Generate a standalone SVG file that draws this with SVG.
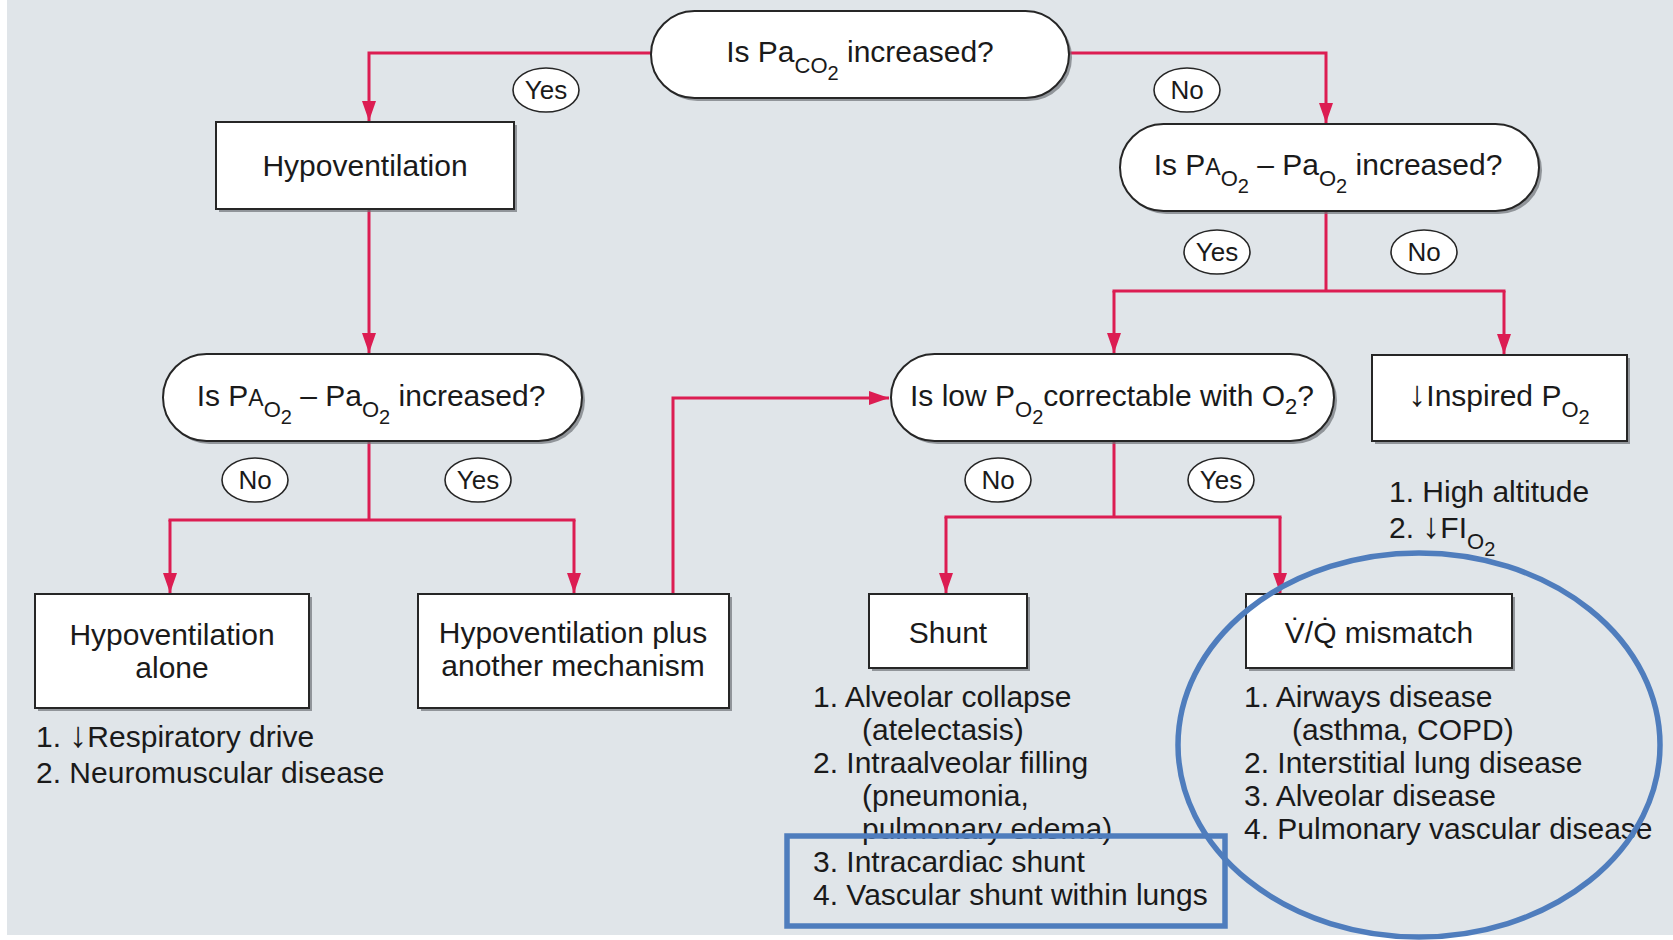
<svg xmlns="http://www.w3.org/2000/svg" width="1673" height="940" viewBox="0 0 1673 940">
<defs>
<style>
.t{font-family:"Liberation Sans",Arial,sans-serif;font-size:30px;fill:#1a1a1a}
.lb{font-family:"Liberation Sans",Arial,sans-serif;font-size:26px;fill:#1a1a1a;text-anchor:middle}
.m{text-anchor:middle}
.s{font-size:22px}
.ss{font-size:20px}
.ar{font-size:36px}
.node{fill:#ffffff;stroke:#262626;stroke-width:2}
.sh{fill:#6f7377;opacity:0.7}
.lab{fill:#ffffff;stroke:#262626;stroke-width:1.6}
.c{fill:none;stroke:#dc1d52;stroke-width:3}
.hl{fill:none;stroke:#4f7dbd;stroke-width:5.5}
</style>
<marker id="a" markerUnits="userSpaceOnUse" markerWidth="20" markerHeight="14" viewBox="0 0 20 14" refX="20" refY="7" orient="auto">
<path d="M0,0 L20,7 L0,14 Z" fill="#dc1d52"/>
</marker>
</defs>
<rect x="0" y="0" width="1673" height="940" fill="#ffffff"/>
<rect x="7" y="0" width="1666" height="935" fill="#e0e5e9"/>

<g id="connectors">
<polyline class="c" points="651,53 369,53 369,121" marker-end="url(#a)"/>
<polyline class="c" points="1069,53 1326,53 1326,123" marker-end="url(#a)"/>
<polyline class="c" points="369,209 369,353" marker-end="url(#a)"/>
<polyline class="c" points="369,441 369,520"/>
<polyline class="c" points="170,520 170,593" marker-end="url(#a)"/>
<polyline class="c" points="168.5,520 575.5,520"/>
<polyline class="c" points="574,520 574,593" marker-end="url(#a)"/>
<polyline class="c" points="673,594 673,398 889,398" marker-end="url(#a)"/>
<polyline class="c" points="1326,210 1326,291"/>
<polyline class="c" points="1112.5,291 1505.5,291"/>
<polyline class="c" points="1114,291 1114,353" marker-end="url(#a)"/>
<polyline class="c" points="1504,291 1504,354" marker-end="url(#a)"/>
<polyline class="c" points="1114,441 1114,517"/>
<polyline class="c" points="944.5,517 1281.5,517"/>
<polyline class="c" points="946,517 946,593" marker-end="url(#a)"/>
<polyline class="c" points="1280,517 1280,593" marker-end="url(#a)"/>
</g>

<g id="labels">
<ellipse class="lab" cx="546" cy="90" rx="33" ry="22"/><text class="lb" x="546" y="99">Yes</text>
<ellipse class="lab" cx="1187" cy="90" rx="33" ry="22"/><text class="lb" x="1187" y="99">No</text>
<ellipse class="lab" cx="255" cy="480" rx="33" ry="22"/><text class="lb" x="255" y="489">No</text>
<ellipse class="lab" cx="478" cy="480" rx="33" ry="22"/><text class="lb" x="478" y="489">Yes</text>
<ellipse class="lab" cx="1217" cy="252" rx="33" ry="22"/><text class="lb" x="1217" y="261">Yes</text>
<ellipse class="lab" cx="1424" cy="252" rx="33" ry="22"/><text class="lb" x="1424" y="261">No</text>
<ellipse class="lab" cx="998" cy="480" rx="33" ry="22"/><text class="lb" x="998" y="489">No</text>
<ellipse class="lab" cx="1221" cy="480" rx="33" ry="22"/><text class="lb" x="1221" y="489">Yes</text>
</g>

<g id="q1">
<rect class="sh" x="654" y="14" width="418" height="87" rx="43.5"/>
<rect class="node" x="651" y="11" width="418" height="87" rx="43.5"/>
<text class="t m" x="860" y="62">Is Pa<tspan class="s" dy="11">CO</tspan><tspan class="ss" dy="7">2</tspan><tspan dy="-18"> increased?</tspan></text>
</g>

<g id="hypo">
<rect class="sh" x="219" y="125" width="298" height="87"/>
<rect class="node" x="216" y="122" width="298" height="87"/>
<text class="t m" x="365" y="176">Hypoventilation</text>
</g>

<g id="q2left">
<rect class="sh" x="166" y="357" width="419" height="87" rx="43.5"/>
<rect class="node" x="163" y="354" width="419" height="87" rx="43.5"/>
<text class="t m" x="371" y="406">Is P<tspan font-size="23">A</tspan><tspan class="s" dy="11">O</tspan><tspan class="ss" dy="7">2</tspan><tspan dy="-18"> –  Pa</tspan><tspan class="s" dy="11">O</tspan><tspan class="ss" dy="7">2</tspan><tspan dy="-18"> increased?</tspan></text>
</g>

<g id="q2right">
<rect class="sh" x="1123" y="127" width="419" height="87" rx="43.5"/>
<rect class="node" x="1120" y="124" width="419" height="87" rx="43.5"/>
<text class="t m" x="1328" y="175">Is P<tspan font-size="23">A</tspan><tspan class="s" dy="11">O</tspan><tspan class="ss" dy="7">2</tspan><tspan dy="-18"> –  Pa</tspan><tspan class="s" dy="11">O</tspan><tspan class="ss" dy="7">2</tspan><tspan dy="-18"> increased?</tspan></text>
</g>

<g id="hypoalone">
<rect class="sh" x="38" y="597" width="274" height="114"/>
<rect class="node" x="35" y="594" width="274" height="114"/>
<text class="t m" x="172" y="645">Hypoventilation</text>
<text class="t m" x="172" y="678">alone</text>
</g>

<g id="hypoplus">
<rect class="sh" x="421" y="597" width="311" height="114"/>
<rect class="node" x="418" y="594" width="311" height="114"/>
<text class="t m" x="573" y="643">Hypoventilation plus</text>
<text class="t m" x="573" y="676">another mechanism</text>
</g>

<g id="q3">
<rect class="sh" x="894" y="357" width="443" height="87" rx="43.5"/>
<rect class="node" x="891" y="354" width="443" height="87" rx="43.5"/>
<text class="t m" x="1112" y="406">Is low P<tspan class="s" dy="11">O</tspan><tspan class="ss" dy="7">2</tspan><tspan dy="-18">correctable with O</tspan><tspan class="s" dy="8">2</tspan><tspan dy="-8">?</tspan></text>
</g>

<g id="inspired">
<rect class="sh" x="1375" y="358" width="255" height="86"/>
<rect class="node" x="1372" y="355" width="255" height="86"/>
<text class="t m" x="1499" y="406"><tspan class="ar">↓</tspan>Inspired P<tspan class="s" dy="11">O</tspan><tspan class="ss" dy="7">2</tspan></text>
<text class="t" x="1389" y="502">1. High altitude</text>
<text class="t" x="1389" y="538">2. <tspan class="ar">↓</tspan>FI<tspan class="s" dy="11">O</tspan><tspan class="ss" dy="7">2</tspan></text>
</g>

<g id="shunt">
<rect class="sh" x="872" y="597" width="158" height="74"/>
<rect class="node" x="869" y="594" width="158" height="74"/>
<text class="t m" x="948" y="643">Shunt</text>
<text class="t" x="813" y="707">1. Alveolar collapse</text>
<text class="t" x="862" y="740">(atelectasis)</text>
<text class="t" x="813" y="773">2. Intraalveolar filling</text>
<text class="t" x="862" y="806">(pneumonia,</text>
<text class="t" x="862" y="839">pulmonary edema)</text>
<text class="t" x="813" y="872">3. Intracardiac shunt</text>
<text class="t" x="813" y="905">4. Vascular shunt within lungs</text>
</g>

<g id="vq">
<rect class="sh" x="1249" y="597" width="266" height="74"/>
<rect class="node" x="1246" y="594" width="266" height="74"/>
<text class="t m" x="1379" y="643">V̇/Q̇ mismatch</text>
<text class="t" x="1244" y="707">1. Airways disease</text>
<text class="t" x="1292" y="740">(asthma, COPD)</text>
<text class="t" x="1244" y="773">2. Interstitial lung disease</text>
<text class="t" x="1244" y="806">3. Alveolar disease</text>
<text class="t" x="1244" y="839">4. Pulmonary vascular disease</text>
</g>

<g id="causes-left">
<text class="t" x="36" y="747">1. <tspan class="ar">↓</tspan>Respiratory drive</text>
<text class="t" x="36" y="783">2. Neuromuscular disease</text>
</g>

<g id="highlights">
<rect class="hl" x="787" y="836" width="438" height="90"/>
<ellipse class="hl" cx="1419" cy="745" rx="241" ry="192"/>
</g>
</svg>
